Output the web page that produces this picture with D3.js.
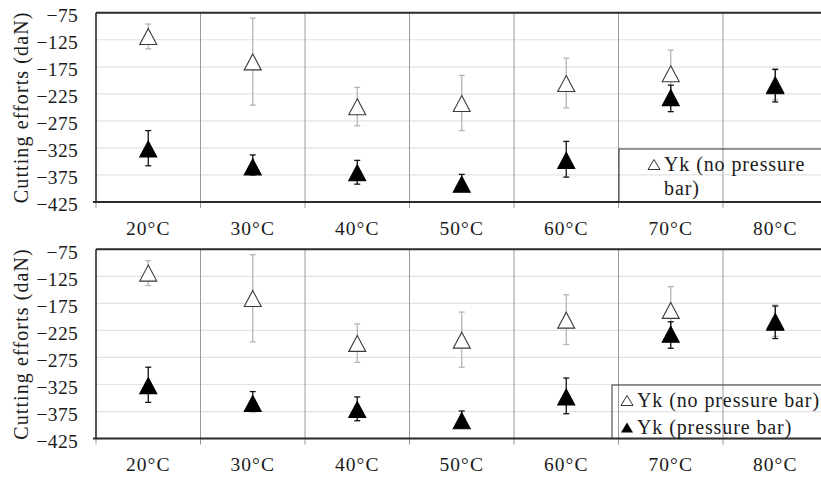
<!DOCTYPE html>
<html><head><meta charset="utf-8">
<script src="https://cdn.jsdelivr.net/npm/d3@7"></script>
<style>body{margin:0;background:#fff} svg{display:block}</style>
</head><body><svg id="c" width="821" height="477"></svg>
<script>
const categories = ["20°C","30°C","40°C","50°C","60°C","70°C","80°C"];
const yTicks = [-75,-125,-175,-225,-275,-325,-375,-425];
const noPressure     = [-119, -166, -249, -243, -206, -188, -208];
const noPressureHigh = [-96,  -85,  -213, -191, -159, -144, -178];
const noPressureLow  = [-142, -246, -284, -293, -251, -232, -236];
const pressure       = [-327, -360, -371, -392, -348, -232, -210];
const pressureHigh   = [-293, -338, -348, -374, -313, -209, -180];
const pressureLow    = [-358, -375, -392, -404, -379, -258, -240];
const yTitle = "Cutting efforts (daN)";
const legendNo = "Yk (no pressure bar)";
const legendYes = "Yk (pressure bar)";

const FONT = "'Liberation Serif', serif";
const svg = d3.select("#c");
const W = 821;
const panels = [{top: 12.7, legend: "wrap"}, {top: 249.3, legend: "two"}];
const H = 189.3;
const x = d3.scaleBand().domain(categories).range([96, 827.5]);

function tri(cx, cy, w, h) {
  return `M${cx},${cy - h/2}L${cx + w/2},${cy + h/2}L${cx - w/2},${cy + h/2}Z`;
}

panels.forEach(p => {
  const g = svg.append("g");
  const y = d3.scaleLinear().domain([-425, -75]).range([p.top + H, p.top]);
  const bottom = p.top + H;

  // gridlines
  g.selectAll(".grid").data(yTicks).join("line")
    .attr("x1", 96).attr("x2", W)
    .attr("y1", d => y(d)).attr("y2", d => y(d))
    .attr("stroke", "#e3e3e3").attr("stroke-width", 1.2);

  // vertical separators + ticks below
  g.selectAll(".sep").data(categories.slice(1)).join("line")
    .attr("x1", d => x(d)).attr("x2", d => x(d))
    .attr("y1", p.top).attr("y2", bottom + 6)
    .attr("stroke", "#9a9a9a").attr("stroke-width", 1);
  g.append("line").attr("x1", 96).attr("x2", 96).attr("y1", bottom).attr("y2", bottom + 6)
    .attr("stroke", "#9a9a9a").attr("stroke-width", 1);

  // y axis labels
  const ya = d3.axisLeft(y).tickValues(yTicks).tickSize(0).tickPadding(0).tickFormat(d3.format("d"));
  const yg = g.append("g").attr("transform", "translate(78,2)").call(ya);
  yg.attr("font-family", FONT);
  yg.select(".domain").remove();
  yg.selectAll("text").attr("font-family", FONT).attr("font-size", 19.5).attr("fill", "#1a1a1a")
    .attr("letter-spacing", 0.3).attr("dy", "0.35em");

  // x axis labels
  const xa = d3.axisBottom(x).tickSize(0).tickPadding(0);
  const xg = g.append("g").attr("transform", `translate(0,${bottom + 32.5})`).call(xa);
  xg.attr("font-family", FONT);
  xg.select(".domain").remove();
  xg.selectAll("text").attr("font-family", FONT).attr("font-size", 19.5).attr("fill", "#1a1a1a")
    .attr("letter-spacing", 1).attr("dy", 0);

  // borders
  g.append("line").attr("x1", 96).attr("x2", W).attr("y1", p.top).attr("y2", p.top)
    .attr("stroke", "#2a2a2a").attr("stroke-width", 2);
  g.append("line").attr("x1", 93).attr("x2", W).attr("y1", bottom).attr("y2", bottom)
    .attr("stroke", "#2a2a2a").attr("stroke-width", 2);
  g.append("line").attr("x1", 96).attr("x2", 96).attr("y1", p.top).attr("y2", bottom)
    .attr("stroke", "#2a2a2a").attr("stroke-width", 1.6);

  // y title
  g.append("text")
    .attr("transform", `translate(28,${p.top + H/2}) rotate(-90)`)
    .attr("text-anchor", "middle")
    .attr("font-family", FONT).attr("font-size", 20).attr("fill", "#1a1a1a")
    .attr("letter-spacing", 1.1)
    .text(yTitle);

  // series
  const series = [
    {v: noPressure, hi: noPressureHigh, lo: noPressureLow, err: "#b5b5b5", fill: "#fff", stroke: "#3a3a3a"},
    {v: pressure, hi: pressureHigh, lo: pressureLow, err: "#111", fill: "#000", stroke: "#000"}
  ];
  series.forEach(s => {
    const cx = i => x(categories[i]) + x.bandwidth() / 2;
    const idx = d3.range(categories.length);
    const eg = g.append("g").attr("stroke", s.err).attr("stroke-width", 1.3);
    eg.selectAll(".v").data(idx).join("line")
      .attr("x1", cx).attr("x2", cx).attr("y1", i => y(s.hi[i])).attr("y2", i => y(s.lo[i]));
    eg.selectAll(".ch").data(idx).join("line")
      .attr("x1", i => cx(i) - 3).attr("x2", i => cx(i) + 3).attr("y1", i => y(s.hi[i])).attr("y2", i => y(s.hi[i]));
    eg.selectAll(".cl").data(idx).join("line")
      .attr("x1", i => cx(i) - 3).attr("x2", i => cx(i) + 3).attr("y1", i => y(s.lo[i])).attr("y2", i => y(s.lo[i]));
    g.selectAll(null).data(idx).join("path")
      .attr("d", i => tri(cx(i), y(s.v[i]), 17, 16))
      .attr("fill", s.fill).attr("stroke", s.stroke).attr("stroke-width", 1.1);
  });

  // legend
  const lg = g.append("g");
  const txt = (t, tx, ty) => lg.append("text").attr("x", tx).attr("y", ty)
    .attr("font-family", FONT).attr("font-size", 20).attr("fill", "#1a1a1a")
    .attr("letter-spacing", 0.9).text(t);
  if (p.legend === "wrap") {
    lg.append("rect").attr("x", 619).attr("y", 149).attr("width", 220).attr("height", bottom - 149)
      .attr("fill", "none").attr("stroke", "#333").attr("stroke-width", 1);
    lg.append("path").attr("d", tri(654, 164.5, 12, 10)).attr("fill", "#fff").attr("stroke", "#333").attr("stroke-width", 1);
    txt("Yk (no pressure", 664, 170.5);
    txt("bar)", 664, 194.5);
  } else {
    lg.append("rect").attr("x", 612).attr("y", 385).attr("width", 230).attr("height", bottom - 385)
      .attr("fill", "none").attr("stroke", "#333").attr("stroke-width", 1);
    lg.append("path").attr("d", tri(627, 400.5, 12, 10)).attr("fill", "#fff").attr("stroke", "#333").attr("stroke-width", 1);
    txt(legendNo, 637, 406.5);
    lg.append("path").attr("d", tri(627, 427.5, 12, 10)).attr("fill", "#000");
    txt(legendYes, 637, 433.5);
  }
});
</script></body></html>
